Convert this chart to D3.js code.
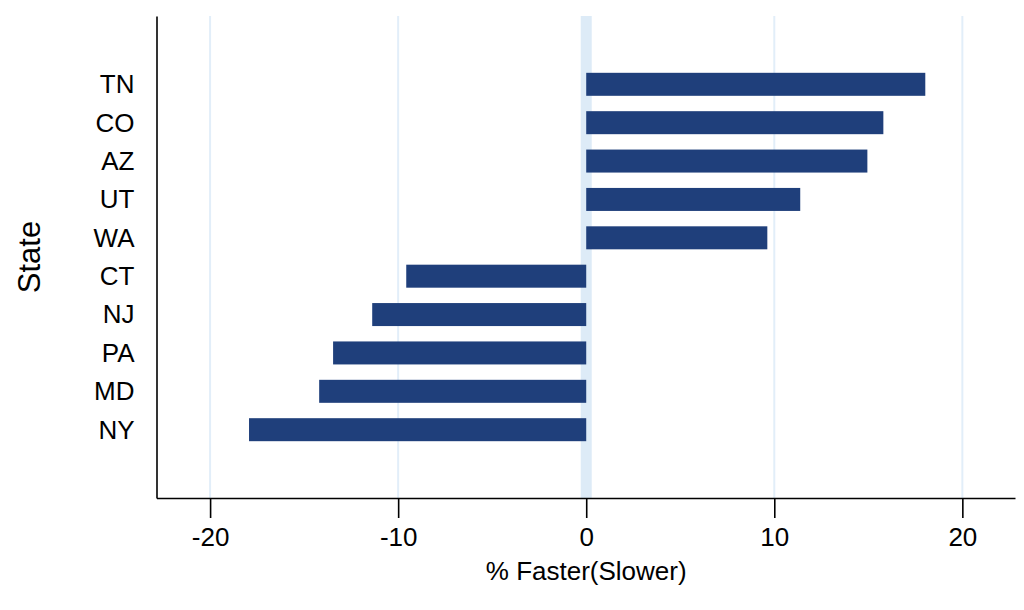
<!DOCTYPE html>
<html><head><meta charset="utf-8">
<script src="https://cdn.jsdelivr.net/npm/d3@7"></script>
<style>body{margin:0;background:#fff}text{font-family:"Liberation Sans",Arial,sans-serif}</style>
</head><body>
<svg id="c" width="1024" height="610"></svg>
<script>
const states = ["TN","CO","AZ","UT","WA","CT","NJ","PA","MD","NY"];
const values = [18.03, 15.8, 14.95, 11.38, 9.63, -9.57, -11.38, -13.46, -14.2, -17.93];
const xTicks = [-20, -10, 0, 10, 20];
const xTitle = "% Faster(Slower)";
const yTitle = "State";

(function () {
const svg = d3.select("#c");
const pL = 156.5, pR = 1015, pT = 16, pB = 498;
const x = d3.scaleLinear().domain([-22.85, 22.8]).range([pL, pR]);
const y = d3.scalePoint().domain(states).range([pT, pB]).padding(1.78);
const barH = 23;
const FF = "Liberation Sans, Arial, sans-serif";

svg.append("g").selectAll("line").data(xTicks.filter(d => d !== 0)).join("line")
  .attr("x1", d => x(d)).attr("x2", d => x(d)).attr("y1", pT).attr("y2", pB)
  .attr("stroke", "#e2eef9").attr("stroke-width", 2);
svg.append("rect").attr("x", x(0) - 5.5).attr("width", 11).attr("y", pT).attr("height", pB - pT)
  .attr("fill", "#ddebf7");

svg.append("g").selectAll("rect").data(states).join("rect")
  .attr("x", (d, i) => x(Math.min(0, values[i])))
  .attr("width", (d, i) => Math.abs(x(values[i]) - x(0)))
  .attr("y", d => y(d) - barH / 2).attr("height", barH)
  .attr("fill", "#1f3f7b");

const xa = svg.append("g").attr("transform", `translate(0,${pB})`)
  .call(d3.axisBottom(x).tickValues(xTicks).tickSize(20).tickSizeOuter(0).tickPadding(10)
    .tickFormat(d => String(d)));
xa.select(".domain").attr("stroke", "#000").attr("stroke-width", 1.6);
xa.selectAll(".tick line").attr("stroke", "#000").attr("stroke-width", 1.6);
xa.selectAll("text").attr("font-size", 26).attr("fill", "#000").attr("font-family", FF);

const ya = svg.append("g").attr("transform", `translate(${pL},0)`)
  .call(d3.axisLeft(y).tickSize(0).tickSizeOuter(0).tickPadding(22));
ya.select(".domain").attr("stroke", "#000").attr("stroke-width", 1.6);
ya.selectAll("text").attr("font-size", 26).attr("fill", "#000").attr("font-family", FF);

svg.append("text").attr("x", x(0)).attr("y", 580).attr("text-anchor", "middle")
  .attr("font-size", 26).attr("font-family", FF).text(xTitle);
svg.append("text").attr("transform", "translate(40,257) rotate(-90)").attr("text-anchor", "middle")
  .attr("font-size", 31).attr("font-family", FF).text(yTitle);
})();
</script>
</body></html>
